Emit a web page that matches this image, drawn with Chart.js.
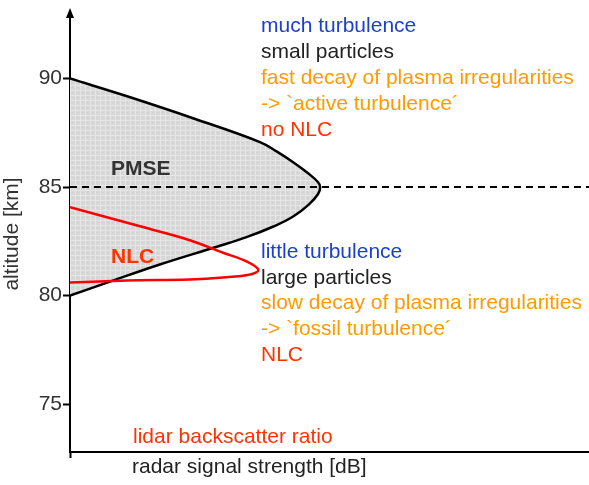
<!DOCTYPE html>
<html>
<head>
<meta charset="utf-8">
<script src="https://cdn.jsdelivr.net/npm/chart.js@4"></script>
<style>
  html, body { margin: 0; padding: 0; background: #fff; }
  #wrap { width: 589px; height: 485px; }
</style>
</head>
<body>
<div id="wrap"><canvas id="chart"></canvas></div>
<script>
// radar signal strength (arbitrary dB units) vs altitude (km)
const pmseX = [0, 11.0, 23.7, 36.6, 39.8, 43.0, 46.0, 47.8, 48.2, 47.8, 46.0, 43.0, 39.2, 34.0, 28.3, 17.3, 7.7, 0];
const pmseY = [90, 89.18, 88.17, 87.07, 86.64, 86.14, 85.61, 85.22, 85.0, 84.68, 84.19, 83.64, 83.18, 82.69, 82.25, 81.43, 80.64, 80];

// lidar backscatter ratio profile
const nlcX = [0, 13.5, 23.1, 29.5, 34.0, 36.3, 34.7, 29.5, 23.1, 11.0, 0];
const nlcY = [84.07, 83.19, 82.55, 81.97, 81.57, 81.18, 80.97, 80.83, 80.74, 80.69, 80.6];

const mesopauseX = [0, 100];
const mesopauseY = [85, 85];

const altitudeTicks = [75, 80, 85, 90];

const upperNotes = ['much turbulence', 'small particles', 'fast decay of plasma irregularities', '-> `active turbulence\u00b4', 'no NLC'];
const lowerNotes = ['little turbulence', 'large particles', 'slow decay of plasma irregularities', '-> `fossil turbulence\u00b4', 'NLC'];

const BLUE = '#1c3fd0', DARK = '#222', ORANGE = '#ff9a00', RED_TXT = '#ff3300';
const noteColors = [BLUE, DARK, ORANGE, ORANGE, RED_TXT];
const FONT = '"Liberation Sans", Arial, sans-serif';

function toPoints(xs, ys) {
  return xs.map((x, i) => ({ x: x, y: ys[i] }));
}

// light grey speckled fill like the original
function makePattern() {
  const c = document.createElement('canvas');
  c.width = 5; c.height = 5;
  const g = c.getContext('2d');
  g.fillStyle = '#d7d7d7';
  g.fillRect(0, 0, 5, 5);
  g.fillStyle = '#e6e6e6';
  g.fillRect(0, 0, 5, 1);
  g.fillRect(0, 0, 1, 5);
  g.fillStyle = '#cfcfcf';
  g.fillRect(2, 2, 1, 1);
  return g.createPattern(c, 'repeat');
}

const annotations = {
  id: 'annotations',
  afterDraw(chart) {
    const ctx = chart.ctx;
    const a = chart.chartArea;
    ctx.save();

    // arrow head on altitude axis
    ctx.fillStyle = '#000';
    ctx.beginPath();
    ctx.moveTo(a.left, a.top - 8);
    ctx.lineTo(a.left - 4, a.top + 2);
    ctx.lineTo(a.left + 4, a.top + 2);
    ctx.closePath();
    ctx.fill();

    ctx.textBaseline = 'alphabetic';
    ctx.textAlign = 'left';
    ctx.font = '21px ' + FONT;
    upperNotes.forEach((t, i) => {
      ctx.fillStyle = noteColors[i];
      ctx.fillText(t, 261, 32 + i * 26);
    });
    lowerNotes.forEach((t, i) => {
      ctx.fillStyle = noteColors[i];
      ctx.fillText(t, 261, 258 + i * 25.7);
    });

    ctx.fillStyle = RED_TXT;
    ctx.fillText('lidar backscatter ratio', 133, 443);
    ctx.fillStyle = DARK;
    ctx.fillText('radar signal strength [dB]', 132, 473);

    ctx.font = 'bold 21px ' + FONT;
    ctx.fillStyle = '#333';
    ctx.fillText('PMSE', 111, 175);
    ctx.fillStyle = RED_TXT;
    ctx.fillText('NLC', 111, 263);
    ctx.restore();
  }
};

new Chart(document.getElementById('chart'), {
  type: 'scatter',
  data: {
    datasets: [
      {
        label: 'lidar backscatter ratio',
        data: toPoints(nlcX, nlcY),
        showLine: true,
        borderColor: '#ff0000',
        borderWidth: 2.5,
        pointRadius: 0,
        tension: 0.35,
        fill: false
      },
      {
        label: '85 km',
        data: toPoints(mesopauseX, mesopauseY),
        showLine: true,
        borderColor: '#000',
        borderWidth: 2,
        borderDash: [7, 5],
        pointRadius: 0,
        fill: false
      },
      {
        label: 'PMSE',
        data: toPoints(pmseX, pmseY),
        showLine: true,
        borderColor: '#000',
        borderWidth: 2.5,
        backgroundColor: makePattern(),
        pointRadius: 0,
        tension: 0.4,
        fill: 'shape'
      }
    ]
  },
  options: {
    responsive: true,
    maintainAspectRatio: false,
    animation: false,
    layout: { padding: { top: 16, left: 0, right: 0, bottom: 0 } },
    plugins: {
      legend: { display: false },
      tooltip: { enabled: false }
    },
    scales: {
      x: {
        type: 'linear',
        min: 0,
        max: 100,
        afterBuildTicks: (axis) => { axis.ticks = [{ value: 0 }]; },
        afterFit: (axis) => { axis.height = 33; },
        ticks: { callback: () => '' },
        grid: { drawOnChartArea: false, tickLength: 6, tickColor: '#000', tickWidth: 2 },
        border: { display: true, color: '#000', width: 2 }
      },
      y: {
        type: 'linear',
        min: 72.79,
        max: 92.88,
        afterBuildTicks: (axis) => { axis.ticks = altitudeTicks.map(v => ({ value: v })); },
        afterFit: (axis) => { axis.width = 70; },
        ticks: {
          color: '#333',
          padding: 1,
          font: { size: 21, family: FONT }
        },
        grid: { drawOnChartArea: false, tickLength: 7, tickColor: '#000', tickWidth: 2 },
        border: { display: true, color: '#000', width: 2 },
        title: {
          display: true,
          text: 'altitude [km]',
          color: '#333',
          font: { size: 21, family: FONT },
          padding: { top: 0, bottom: 0 }
        }
      }
    }
  },
  plugins: [annotations]
});
</script>
</body>
</html>
